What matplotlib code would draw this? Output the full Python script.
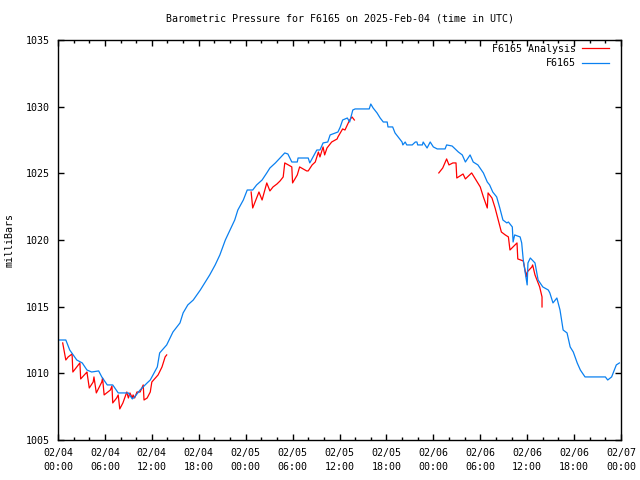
import datetime as dt
import numpy as np
import matplotlib
matplotlib.use("Agg")
import matplotlib.pyplot as plt
import matplotlib.dates as mdates

t0 = dt.datetime(2025, 2, 4, 0, 0)

# hours since 02/04 00:00 UTC and pressure in millibars
station_hours = [0.0, 1.0, 1.5, 2.4, 3.1, 3.7, 4.3, 5.2, 5.6, 6.3, 7.0, 7.7, 9.0, 9.5, 9.8,
                 10.5, 11.4, 11.8, 12.7, 13.0, 13.9, 14.7, 15.6, 16.0, 16.6, 17.3, 18.2,
                 19.4, 20.1, 20.7, 21.4, 22.0, 22.6, 23.0, 23.7, 24.2, 24.9, 25.4, 26.1,
                 26.7, 27.1, 27.8, 28.4, 29.0, 29.4, 29.9, 30.6, 30.7, 32.0, 32.2, 33.1,
                 33.5, 33.9, 34.5, 34.8, 35.8, 36.1, 36.4, 37.0, 37.3, 37.7, 38.0, 39.8,
                 40.0, 40.3, 40.8, 41.2, 41.6, 42.1, 42.2, 42.8, 43.1, 43.5, 44.0, 44.1,
                 44.4, 44.6, 45.3, 45.7, 45.9, 46.0, 46.6, 46.7, 47.2, 47.6, 48.0, 48.5,
                 49.5, 49.7, 50.4, 50.8, 51.2, 51.7, 52.1, 52.7, 53.1, 53.7, 54.4, 54.9,
                 55.2, 55.6, 56.1, 56.5, 56.9, 57.4, 57.6, 58.1, 58.2, 58.4, 59.1, 59.3,
                 59.5, 60.0, 60.1, 60.4, 61.0, 61.4, 62.0, 62.7, 62.9, 63.3, 63.8, 64.2,
                 64.6, 65.1, 65.5, 65.9, 66.4, 66.8, 67.4, 70.0, 70.3, 70.8, 71.4, 71.8]
station_mb = [1012.5, 1012.5, 1011.75, 1011.0, 1010.78, 1010.25, 1010.1, 1010.18, 1009.73,
              1009.13, 1009.13, 1008.53, 1008.53, 1008.08, 1008.23, 1008.75, 1009.28, 1009.5,
              1010.48, 1011.53, 1012.13, 1013.1, 1013.78, 1014.53, 1015.13, 1015.5, 1016.25,
              1017.38, 1018.13, 1018.88, 1020.0, 1020.75, 1021.5, 1022.25, 1023.0, 1023.75,
              1023.75, 1024.13, 1024.5, 1025.03, 1025.4, 1025.78, 1026.15, 1026.53, 1026.45,
              1025.85, 1025.85, 1026.15, 1026.15, 1025.78, 1026.75, 1026.75, 1027.28, 1027.35,
              1027.88, 1028.1, 1028.48, 1029.0, 1029.15, 1028.85, 1029.75, 1029.83, 1029.83,
              1030.2, 1029.9, 1029.53, 1029.15, 1028.85, 1028.85, 1028.48, 1028.48, 1028.03,
              1027.73, 1027.35, 1027.13, 1027.35, 1027.13, 1027.13, 1027.35, 1027.35, 1027.13,
              1027.13, 1027.35, 1026.9, 1027.35, 1026.98, 1026.83, 1026.83, 1027.13, 1027.05,
              1026.83, 1026.6, 1026.38, 1025.85, 1026.38, 1025.85, 1025.63, 1025.03, 1024.35,
              1024.13, 1023.6, 1023.23, 1022.4, 1021.5, 1021.28, 1021.35, 1020.98, 1019.85,
              1020.38, 1020.23, 1019.78, 1018.5, 1016.63, 1018.28, 1018.65, 1018.28, 1017.0,
              1016.48, 1016.25, 1016.03, 1015.28, 1015.65, 1014.75, 1013.25, 1013.03, 1011.98,
              1011.6, 1010.78, 1010.25, 1009.73, 1009.73, 1009.5, 1009.73, 1010.63, 1010.78]

# analysis comes in three separate runs
ana1_hours = [0.6, 1.0, 1.3, 1.8, 1.9, 2.6, 2.8, 2.9, 3.6, 3.7, 4.0, 4.5, 4.6, 4.9, 5.6, 5.7,
              5.9, 6.7, 6.9, 7.0, 7.5, 7.7, 7.9, 8.3, 8.8, 9.0, 9.2, 9.5, 9.6, 9.8, 10.1,
              10.5, 10.9, 11.0, 11.4, 11.8, 12.0, 12.8, 13.3, 13.7, 13.9]
ana1_mb = [1012.28, 1011.0, 1011.23, 1011.45, 1010.1, 1010.63, 1010.78, 1009.58, 1010.03,
           1010.1, 1008.9, 1009.35, 1009.73, 1008.53, 1009.35, 1009.65, 1008.38, 1008.75,
           1009.05, 1007.78, 1008.15, 1008.38, 1007.33, 1007.78, 1008.6, 1008.15, 1008.53,
           1008.15, 1008.38, 1008.15, 1008.6, 1008.6, 1009.13, 1008.0, 1008.15, 1008.6,
           1009.35, 1009.88, 1010.48, 1011.23, 1011.38]
ana2_hours = [24.7, 24.9, 25.4, 25.7, 26.1, 26.7, 27.1, 27.5, 28.0, 28.4, 28.8, 29.0, 29.7,
              29.9, 30.0, 30.6, 30.9, 31.8, 32.0, 32.5, 32.9, 33.3, 33.5, 33.9, 34.1, 34.4,
              35.0, 35.7, 35.8, 36.1, 36.4, 36.7, 37.0, 37.3, 37.6, 37.9]
ana2_mb = [1023.6, 1022.4, 1023.15, 1023.6, 1023.0, 1024.28, 1023.68, 1023.98, 1024.2,
           1024.43, 1024.73, 1025.78, 1025.55, 1025.48, 1024.28, 1024.88, 1025.48, 1025.18,
           1025.18, 1025.63, 1025.85, 1026.6, 1026.23, 1026.98, 1026.38, 1026.9, 1027.35,
           1027.58, 1027.73, 1028.03, 1028.33, 1028.25, 1028.63, 1029.0, 1029.23, 1029.0]
ana3_hours = [48.7, 49.2, 49.7, 50.0, 50.5, 50.9, 51.0, 51.4, 51.8, 52.1, 52.9, 53.3, 54.0,
              54.4, 54.9, 55.0, 55.5, 55.9, 56.3, 56.7, 57.2, 57.6, 57.8, 58.7, 58.8, 59.5,
              59.9, 60.0, 60.6, 60.7, 61.0, 61.6, 61.9, 61.9]
ana3_mb = [1025.03, 1025.4, 1026.08, 1025.63, 1025.78, 1025.78, 1024.65, 1024.8, 1024.95,
           1024.58, 1025.03, 1024.65, 1023.98, 1023.23, 1022.4, 1023.53, 1023.15, 1022.4,
           1021.5, 1020.6, 1020.38, 1020.23, 1019.25, 1019.78, 1018.58, 1018.43, 1017.23,
           1017.6, 1017.98, 1018.13, 1017.38, 1016.48, 1015.73, 1014.98]

def to_times(hours):
    return [t0 + dt.timedelta(hours=h) for h in hours]

plt.rcParams["font.family"] = "DejaVu Sans Mono"
plt.rcParams["font.size"] = 7.2

fig = plt.figure(figsize=(6.4, 4.8), dpi=100)
ax = fig.add_axes([58/640, 40/480, 563/640, 400/480])

# gaps between analysis runs via NaN
ana_t = to_times(ana1_hours) + [t0 + dt.timedelta(hours=20)] + to_times(ana2_hours) \
    + [t0 + dt.timedelta(hours=43)] + to_times(ana3_hours)
ana_v = ana1_mb + [np.nan] + ana2_mb + [np.nan] + ana3_mb

ax.plot(ana_t, ana_v, color="#ff0000", lw=0.9, label="F6165 Analysis")
ax.plot(to_times(station_hours), station_mb, color="#0a80f0", lw=0.9, label="F6165")

ax.set_xlim(t0, t0 + dt.timedelta(hours=72))
ax.set_ylim(1005, 1035)
ax.set_yticks(np.arange(1005, 1036, 5))
ax.xaxis.set_major_locator(mdates.HourLocator(byhour=[0, 6, 12, 18]))
ax.xaxis.set_minor_locator(mdates.HourLocator(interval=2))
ax.xaxis.set_major_formatter(mdates.DateFormatter("%m/%d\n%H:%M"))
ax.tick_params(which="both", direction="in", top=True, right=True, width=1, colors="black")
ax.tick_params(which="major", length=4.5, pad=6)
ax.tick_params(which="minor", length=2.5)
for s in ax.spines.values():
    s.set_linewidth(1)

ax.set_ylabel("milliBars", labelpad=8)
ax.set_title("Barometric Pressure for F6165 on 2025-Feb-04 (time in UTC)", fontsize=7.2, pad=13)
ax.legend(loc="upper right", bbox_to_anchor=(1 - 7/563, 1 + 2/400), frameon=False,
          markerfirst=False, handlelength=2.7, borderaxespad=0.15, labelspacing=0.45,
          handletextpad=0.6)

fig.canvas.draw()
for lbl in ax.get_xticklabels():
    lbl.set_linespacing(1.45)

fig.savefig("out.png", dpi=100)
